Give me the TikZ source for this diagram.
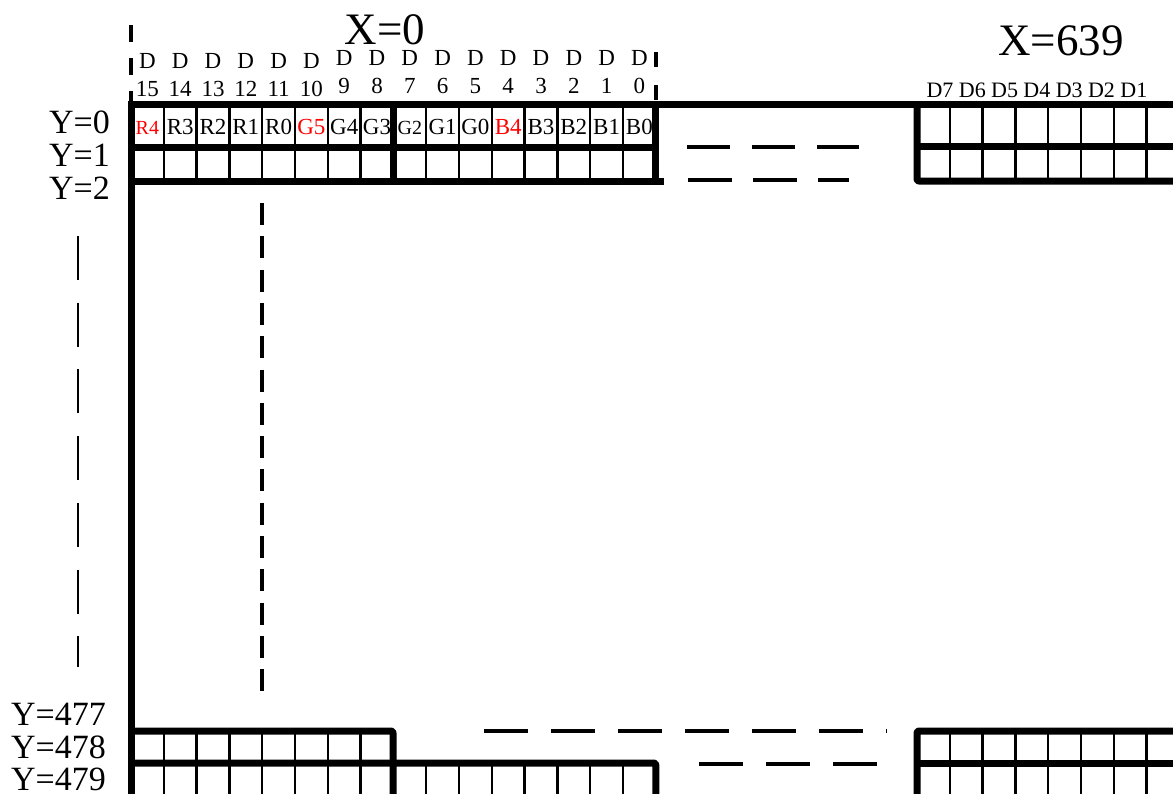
\documentclass[tikz,border=0pt]{standalone}
\usepackage{fontspec}
\setmainfont{Liberation Serif}
\begin{document}
\begin{tikzpicture}[x=1pt,y=-1pt,
  thickln/.style={line width=7pt,line join=round,rounded corners=2pt},
  thinln/.style={line width=2.5pt},
  dashln/.style={line width=4.5pt},
  big/.style={font=\fontsize{45}{45}\selectfont,inner sep=0pt,anchor=base},
  ylab/.style={font=\fontsize{34}{34}\selectfont,inner sep=0pt,anchor=base east},
  dlab/.style={font=\fontsize{23}{23}\selectfont,inner sep=0pt,anchor=base},
  rlab/.style={font=\fontsize{22}{22}\selectfont,inner sep=0pt,anchor=base},
  cell/.style={inner sep=0pt,anchor=base}]
\useasboundingbox (0,0) rectangle (1173,793);

% ---- top-left block (Y=0..2, X=0)
\draw[thickln] (128,104) -- (1173,104);
\draw[thickln] (131,101) -- (131,796);
\draw[thickln] (131,147) -- (656,147);
\draw[thickln] (131,181) -- (664,181);
\draw[thickln] (393,104) -- (393,181);
\draw[thickln] (655.8,104) -- (655.8,181);
\foreach \i in {1,...,7,9,10,...,15}
  \draw[thinln] ({131+32.8*\i},104) -- ({131+32.8*\i},181);

% ---- top-right block (X=639)
\draw[thickln] (917,104) -- (917,181) -- (1176,181);
\draw[thickln] (917,146) -- (1176,146);
\foreach \k in {1,...,7}
  \draw[thinln] ({917+32.8*\k},104) -- ({917+32.8*\k},181);

% ---- bottom-left block
\draw[thickln] (131,731) -- (393,731) -- (393,796);
\draw[thickln] (131,763) -- (655.8,763) -- (655.8,796);
\foreach \i in {1,...,7}
  \draw[thinln] ({131+32.8*\i},731) -- ({131+32.8*\i},796);
\foreach \i in {9,...,15}
  \draw[thinln] ({131+32.8*\i},763) -- ({131+32.8*\i},796);

% ---- bottom-right block
\draw[thickln] (917,796) -- (917,731) -- (1176,731);
\draw[thickln] (917,763) -- (1176,763);
\foreach \k in {1,...,7}
  \draw[thinln] ({917+32.8*\k},731) -- ({917+32.8*\k},796);

% ---- dashed lines
\draw[dashln,dash pattern=on 17pt off 16pt] (131,25) -- (131,101);
\draw[dashln,dash pattern=on 15pt off 18pt] (655.8,52) -- (655.8,101);
\draw[dashln,dash pattern=on 43pt off 22pt] (687,147) -- (859,147);
\draw[dashln,dash pattern=on 44pt off 21pt] (688,180) -- (849,180);
\draw[line width=4.5pt,dash pattern=on 22pt off 11.3pt] (262,203) -- (262,693);
\draw[line width=2.6pt,dash pattern=on 44pt off 22.7pt] (78,236) -- (78,667);
\draw[dashln,dash pattern=on 44pt off 23pt] (484,731) -- (887,731);
\draw[dashln,dash pattern=on 44pt off 23pt] (699,764) -- (877,764);

% ---- titles
\node[big] (x0) at (385,44) {X=0};
\node[big] (x639) at (1061,55) {X=639};

% ---- row labels
\node[ylab] (y0) at (110,133) {Y=0};
\node[ylab] (y1) at (110,166) {Y=1};
\node[ylab] (y2) at (110,199) {Y=2};
\node[ylab] (y477) at (106,725) {Y=477};
\node[ylab] (y478) at (106,758) {Y=478};
\node[ylab] (y479) at (106,790) {Y=479};

% ---- data bit headers D15..D0
\foreach \n [count=\j from 0] in {15,14,13,12,11,10} {
  \node[dlab] (dd\n) at ({131+32.8*(\j+0.5)},68) {D};
  \node[dlab] (dn\n) at ({131+32.8*(\j+0.5)},96) {\n};
}
\foreach \n [count=\j from 6] in {9,8,7,6,5,4,3,2,1,0} {
  \node[dlab] (dd\n) at ({131+32.8*(\j+0.5)},65) {D};
  \node[dlab] (dn\n) at ({131+32.8*(\j+0.5)},93) {\n};
}

% ---- cell contents of row Y=0
\foreach \t/\c/\s [count=\j from 0] in {R4/red/20,R3/black/23,R2/black/23,R1/black/23,R0/black/23,G5/red/23,G4/black/23,G3/black/23,G2/black/20,G1/black/23,G0/black/23,B4/red/23,B3/black/23,B2/black/23,B1/black/23,B0/black/23}
  \node[cell,text=\c,font=\fontsize{\s}{\s}\selectfont] (c\j) at ({131+32.8*(\j+0.5)},134) {\t};

% ---- right headers D7..D1
\foreach \n [count=\k from 0] in {7,6,5,4,3,2,1}
  \node[rlab] (r\n) at ({940+32.3*\k},97) {D\n};
\end{tikzpicture}
\end{document}
